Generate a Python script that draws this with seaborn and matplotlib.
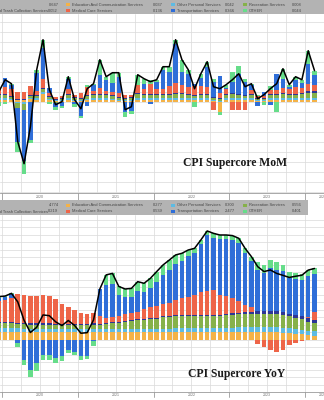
import numpy as np
import pandas as pd
import matplotlib
matplotlib.use("Agg")
import matplotlib.pyplot as plt
from matplotlib.patches import Rectangle
import seaborn as sns

# ---------------------------------------------------------------- data
months = pd.period_range("2019-12", periods=51, freq="M").astype(str).tolist()

categories = [
    "Education And Communication Services",
    "Other Personal Services",
    "Recreation Services",
    "Water, Sewer And Trash Collection Services",
    "Medical Care Services",
    "Transportation Services",
    "OTHER",
]

# month-over-month contributions (pp)
edu_mom = [0.02, 0.02, 0.02, 0.02, 0.02, 0.03, 0.02, 0.08, 0.02, 0.01,
           0.01, 0.02, 0.01, 0.01, 0.02, 0.02, 0.02, 0.02, 0.02, 0.01,
           0.01, 0.01, 0.02, 0.02, 0.02, 0.02, 0.02, 0.02, 0.02, 0.02,
           0.02, 0.02, 0.02, 0.02, 0.01, -0.10, 0.02, 0.02, 0.02, 0.02,
           0.02, 0.01, 0.01, 0.02, 0.02, 0.02, 0.02, 0.02, 0.02, 0.02, 0.02]
op_mom = [0.02, 0.02, 0.01, -0.01, -0.02, 0.01, 0.02, 0.02, 0.01, 0.01,
          0.01, 0.02, 0.01, 0.01, 0.01, 0.02, 0.02, 0.02, 0.01, 0.01,
          0.01, 0.01, 0.02, 0.02, 0.02, 0.02, 0.02, 0.02, 0.02, 0.02,
          0.02, 0.02, 0.02, 0.02, 0.01, 0.01, 0.02, 0.02, 0.02, 0.02,
          0.02, 0.01, 0.01, 0.02, 0.02, 0.02, 0.02, 0.02, 0.02, 0.02, 0.02]
rec_mom = [0.03, 0.03, 0.02, -0.05, -0.06, 0.02, 0.02, 0.03, 0.02, -0.01,
           0.01, 0.03, 0.02, 0.01, 0.03, 0.03, 0.03, 0.03, 0.03, 0.02,
           0.01, 0.02, 0.04, 0.03, 0.03, 0.03, 0.03, 0.03, 0.04, 0.04,
           0.03, 0.02, 0.03, 0.03, 0.02, 0.02, 0.03, 0.04, 0.03, 0.02,
           0.03, 0.01, 0.01, 0.03, 0.03, 0.04, 0.03, 0.03, 0.04, 0.05, 0.05]
water_mom = [0.01, 0.01, 0.01, 0.01, 0.01, 0.01, 0.01, 0.01, 0.01, 0.01,
             0.01, 0.01, 0.01, 0.01, 0.01, 0.01, 0.01, 0.01, 0.01, 0.01,
             0.01, 0.01, 0.01, 0.01, 0.01, 0.01, 0.01, 0.01, 0.01, 0.01,
             0.01, 0.01, 0.01, 0.01, 0.01, 0.01, 0.01, 0.01, 0.01, 0.01,
             0.01, 0.01, 0.01, 0.01, 0.01, 0.01, 0.01, 0.01, 0.01, 0.02, 0.02]
med_mom = [0.06, 0.07, 0.07, 0.07, 0.07, 0.09, 0.04, 0.09, 0.03, 0.02,
           0.02, 0.05, 0.02, 0.05, 0.08, 0.03, 0.06, 0.03, 0.03, 0.04,
           0.03, 0.02, 0.08, 0.05, 0.10, 0.05, 0.05, 0.08, 0.10, 0.08,
           0.07, 0.09, 0.08, 0.07, -0.08, 0.05, 0.05, -0.08, -0.08, -0.08,
           0.04, 0.02, 0.02, 0.04, 0.04, 0.05, 0.05, 0.07, 0.05, 0.07, 0.06]
trans_mom = [0.00, 0.09, 0.04, -0.34, -0.51, -0.38, 0.18, 0.31, 0.05, -0.04,
             -0.04, 0.10, -0.02, -0.14, -0.04, 0.06, 0.13, 0.11, 0.09, 0.16,
             -0.10, -0.09, 0.00, 0.05, -0.02, 0.07, 0.19, 0.14, 0.39, 0.13,
             0.13, 0.02, 0.08, 0.20, 0.15, 0.17, 0.01, 0.11, 0.20, 0.13,
             0.05, -0.04, 0.04, -0.03, 0.16, 0.09, 0.02, 0.07, 0.05, 0.20, 0.10]
other_mom = [-0.04, -0.02, 0.01, -0.10, -0.13, -0.03, 0.03, 0.08, -0.02, -0.03,
             -0.02, 0.02, -0.03, -0.02, 0.02, 0.01, 0.15, 0.03, 0.10, 0.04,
             -0.05, -0.03, 0.10, 0.05, 0.04, 0.02, 0.03, 0.05, 0.04, 0.12,
             0.04, -0.05, 0.04, 0.05, 0.03, -0.03, 0.03, 0.10, 0.08, 0.03,
             0.01, 0.01, -0.03, 0.04, -0.10, 0.10, 0.02, 0.03, 0.03, 0.13, 0.04]

# year-over-year contributions (pp)
edu_yoy = [0.55, 0.55, 0.55, 0.55, 0.55, 0.55, 0.55, 0.55, 0.55, 0.55,
           0.55, 0.55, 0.55, 0.55, 0.55, 0.55, 0.50, 0.50, 0.50, 0.50,
           0.50, 0.50, 0.50, 0.50, 0.50, 0.50, 0.50, 0.50, 0.50, 0.50,
           0.50, 0.50, 0.50, 0.50, 0.50, 0.50, 0.50, 0.50, 0.50, 0.50,
           0.50, 0.50, 0.50, 0.50, 0.50, 0.48, 0.45, 0.42, 0.38, 0.33, 0.277]
op_yoy = [0.22, 0.22, 0.22, 0.22, 0.20, 0.20, 0.20, 0.20, 0.20, 0.20,
          0.20, 0.20, 0.20, 0.20, 0.20, 0.20, 0.20, 0.20, 0.20, 0.20,
          0.20, 0.20, 0.20, 0.20, 0.22, 0.22, 0.25, 0.25, 0.28, 0.30,
          0.30, 0.30, 0.30, 0.30, 0.30, 0.30, 0.32, 0.33, 0.35, 0.35,
          0.35, 0.35, 0.35, 0.35, 0.35, 0.35, 0.32, 0.32, 0.30, 0.30, 0.300]
rec_yoy = [0.33, 0.33, 0.33, 0.30, 0.30, 0.28, 0.28, 0.28, 0.28, 0.27,
           0.27, 0.27, 0.25, 0.25, 0.25, 0.28, 0.30, 0.35, 0.40, 0.45,
           0.50, 0.55, 0.60, 0.60, 0.65, 0.70, 0.75, 0.75, 0.80, 0.80,
           0.80, 0.80, 0.80, 0.80, 0.80, 0.80, 0.82, 0.85, 0.88, 0.90,
           0.90, 0.90, 0.90, 0.90, 0.90, 0.85, 0.80, 0.75, 0.70, 0.60, 0.556]
water_yoy = [0.07, 0.07, 0.07, 0.07, 0.07, 0.07, 0.07, 0.07, 0.07, 0.07,
             0.07, 0.07, 0.07, 0.07, 0.07, 0.07, 0.07, 0.07, 0.07, 0.07,
             0.07, 0.07, 0.07, 0.07, 0.07, 0.07, 0.08, 0.08, 0.08, 0.08,
             0.08, 0.08, 0.08, 0.08, 0.08, 0.08, 0.10, 0.10, 0.10, 0.10,
             0.12, 0.15, 0.15, 0.15, 0.15, 0.17, 0.18, 0.20, 0.20, 0.22, 0.219]
med_yoy = [1.45, 1.50, 1.60, 1.90, 1.85, 1.85, 1.85, 1.90, 1.85, 1.65,
           1.30, 1.10, 0.90, 0.70, 0.67, 0.67, 0.55, 0.35, 0.35, 0.40,
           0.45, 0.45, 0.50, 0.70, 0.75, 0.80, 0.85, 0.90, 1.00, 1.10,
           1.20, 1.30, 1.50, 1.60, 1.67, 1.30, 1.20, 1.00, 0.78, 0.50,
           0.30, -0.30, -0.45, -0.67, -0.78, -0.67, -0.35, -0.20, -0.10, 0.10, 0.539]
trans_yoy = [0.20, 0.20, 0.28, -0.20, -1.33, -2.00, -1.55, -1.00, -1.00, -1.20,
             -1.10, -0.67, -0.78, -1.10, -1.10, -0.10, 1.78, 2.20, 2.20, 1.40,
             1.13, 1.10, 1.40, 1.10, 1.30, 1.60, 1.90, 2.20, 2.40, 2.50,
             2.72, 2.83, 3.19, 3.69, 3.46, 3.72, 3.76, 3.88, 3.87, 3.46,
             3.09, 2.74, 2.56, 2.89, 2.77, 2.73, 2.37, 2.36, 2.44, 2.71, 2.477]
other_yoy = [0.07, 0.06, 0.06, -0.30, -0.33, -0.45, -0.55, -0.33, -0.33, -0.33,
             -0.33, -0.22, -0.22, -0.22, -0.15, -0.33, 0.00, 0.67, 0.72, 0.55,
             0.55, 0.57, 0.62, 0.61, 0.62, 0.67, 0.67, 0.65, 0.61, 0.50,
             0.40, 0.30, 0.30, 0.30, 0.30, 0.30, 0.30, 0.30, 0.30, 0.30,
             0.30, 0.55, 0.55, 0.55, 0.55, 0.40, 0.40, 0.40, 0.40, 0.40, 0.401]

years = ["2020", "2021", "2022", "2023", "2024"]

legend_mom_total = "0.647"
legend_mom = ["0.037", "0.042", "0.008", "0.052", "0.136", "0.366", "0.044"]
legend_yoy_total = "4.774"
legend_yoy = ["0.277", "0.300", "0.556", "0.219", "0.539", "2.477", "0.401"]

# ---------------------------------------------------------------- style
sns.set_theme(style="white")
plt.rcParams["font.family"] = ["Liberation Sans", "DejaVu Sans"]

colors = ["#F4B247", "#5DBBE3", "#86B14A", "#2D3596", "#EE6548", "#2F6ED8", "#66DD8A"]
band_grey = "#B3B3B3"
text_grey = "#454545"

W, H = 324, 400
fig = plt.figure(figsize=(W / 100, H / 100), dpi=100)


def rect(x, y, w, h):
    """Axes rectangle from pixel box (top-left origin)."""
    return [x / W, 1 - (y + h) / H, w / W, h / H]


x = np.arange(len(months))
PITCH = 6.4                      # pixels per month
x0 = 0.5 - 2 / PITCH
xlim = (x0, x0 + W / PITCH)


def stacked(ax, layers):
    pos = np.zeros(len(x))
    neg = np.zeros(len(x))
    for vals, c in zip(layers, colors):
        v = np.asarray(vals, dtype=float)
        base = np.where(v >= 0, pos, neg)
        ax.bar(x, v, bottom=base, width=0.72, color=c, linewidth=0, zorder=2)
        pos += np.clip(v, 0, None)
        neg += np.clip(v, None, 0)
    return pos + neg


def style_axes(ax, ylim, ystep, tick_len):
    ax.set_xlim(*xlim)
    ax.set_ylim(*ylim)
    ax.set_yticks(np.arange(np.ceil(ylim[0] / ystep) * ystep, ylim[1], ystep))
    ax.set_yticklabels([])
    ax.tick_params(axis="y", length=0)
    # quarterly grid, yearly ticks
    ax.set_xticks(np.arange(0.5, 52, 3), minor=False)
    ax.set_xticklabels([])
    ax.grid(True, axis="both", color="#DCDCDC", lw=0.55, zorder=0)
    ax.tick_params(axis="x", which="major", length=0)
    for s in ["top", "left", "right"]:
        ax.spines[s].set_visible(False)
    ax.spines["bottom"].set_color("#9A9A9A")
    ax.spines["bottom"].set_linewidth(0.6)
    for b in np.arange(0.5, 52, 12):
        ax.plot([b, b], [0, -tick_len], transform=ax.get_xaxis_transform(),
                color="#9A9A9A", lw=0.6, clip_on=False)
    centers = [6.5, 18.5, 30.5, 42.5, 51.3]
    for c, lab in zip(centers, years):
        ax.text(c, -tick_len * 0.55, lab, transform=ax.get_xaxis_transform(),
                ha="center", va="center", fontsize=2.6, color="#707070")


def legend_band(ax, width, total, vals):
    ax.set_xlim(0, width)
    ax.axis("off")
    ax.add_patch(Rectangle((-1, -1), width + 2, 17, color=band_grey, zorder=0))
    kw = dict(fontsize=2.9, color=text_grey, va="center")
    r1, r2 = 4.6, 10.8
    ax.text(59, r1, total, ha="right", **kw)
    ax.text(48, r2, categories[3], ha="right", **kw)
    ax.text(58, r2, vals[3], ha="right", **kw)
    cols = [(68, 163), (173, 235), (245, 302)]
    row1 = [0, 1, 2]
    row2 = [4, 5, 6]
    for (mx, vx), k in zip(cols, row1):
        ax.add_patch(Rectangle((mx - 1.6, r1 - 1.6), 3.2, 3.2, color=colors[k], lw=0))
        ax.text(mx + 4, r1, categories[k], ha="left", **kw)
        ax.text(vx, r1, vals[k], ha="right", **kw)
    for (mx, vx), k in zip(cols, row2):
        ax.add_patch(Rectangle((mx - 1.6, r2 - 1.6), 3.2, 3.2, color=colors[k], lw=0))
        ax.text(mx + 4, r2, categories[k], ha="left", **kw)
        ax.text(vx, r2, vals[k], ha="right", **kw)


# ---------------------------------------------------------------- MoM panel
band1 = fig.add_axes(rect(0, 0, 324, 13.5))
legend_band(band1, 324, legend_mom_total, legend_mom)
band1.set_ylim(13.5, -0.5)

ax1 = fig.add_axes(rect(0, 13.5, 324, 179.5))
total_mom = stacked(ax1, [edu_mom, op_mom, rec_mom, water_mom, med_mom, trans_mom, other_mom])
sns.lineplot(x=x, y=total_mom, ax=ax1, color="black", lw=1.1, zorder=4)
style_axes(ax1, (-0.913, 0.882), 0.1, 0.04)
ax1.text(0.724, 0.165, "CPI Supercore MoM", transform=ax1.transAxes, ha="center",
         va="center", fontsize=8.4, fontweight="bold", family="Liberation Serif",
         color="#1A1A1A", zorder=5)

# ---------------------------------------------------------------- YoY panel
band2 = fig.add_axes(rect(0, 200, 308, 15))
legend_band(band2, 308, legend_yoy_total, legend_yoy)
band2.set_ylim(14.5, -0.5)

ax2 = fig.add_axes(rect(0, 215, 324, 177))
total_yoy = stacked(ax2, [edu_yoy, op_yoy, rec_yoy, water_yoy, med_yoy, trans_yoy, other_yoy])
sns.lineplot(x=x, y=total_yoy, ax=ax2, color="black", lw=1.1, zorder=4)
style_axes(ax2, (-3.467, 8.333), 0.5, 0.03)
ax2.text(0.731, 0.102, "CPI Supercore YoY", transform=ax2.transAxes, ha="center",
         va="center", fontsize=8.4, fontweight="bold", family="Liberation Serif",
         color="#1A1A1A", zorder=5)

fig.savefig("out.png", dpi=100)
